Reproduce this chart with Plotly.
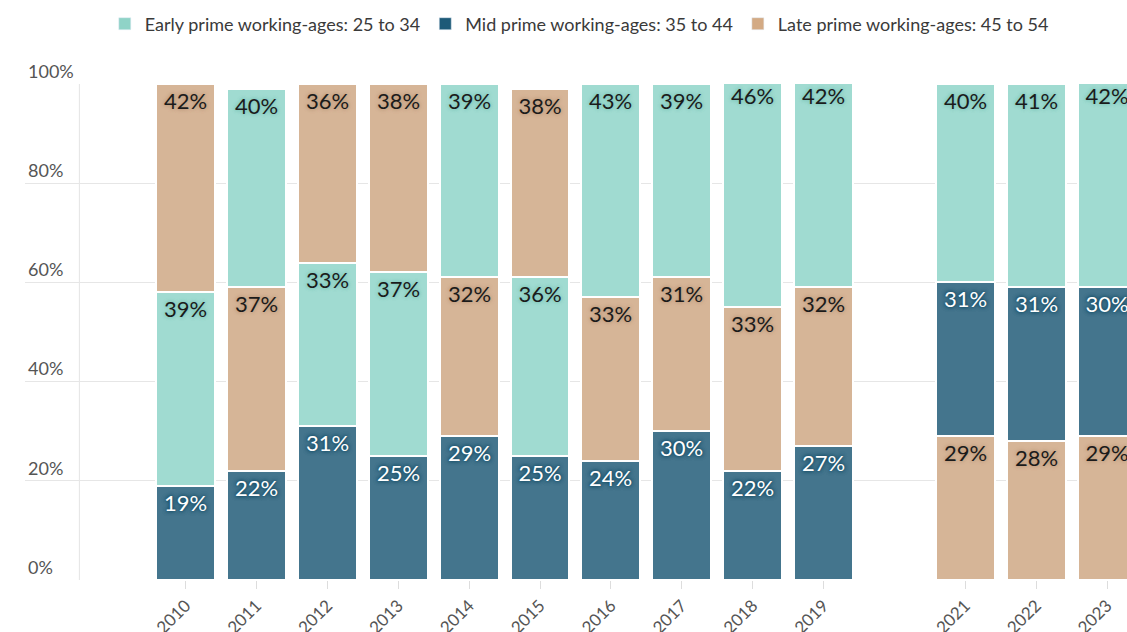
import plotly.graph_objects as go

# ---- data ----
years = [2010, 2011, 2012, 2013, 2014, 2015, 2016, 2017, 2018, 2019, 2021, 2022, 2023]
early = [39, 40, 33, 37, 39, 36, 43, 39, 46, 42, 40, 41, 42]
mid = [19, 22, 31, 25, 29, 25, 24, 30, 22, 27, 31, 31, 30]
late = [42, 37, 36, 38, 32, 38, 33, 31, 33, 32, 29, 28, 29]
series_names = ["Early prime working-ages: 25 to 34",
                "Mid prime working-ages: 35 to 44",
                "Late prime working-ages: 45 to 54"]
y_ticks = [0, 20, 40, 60, 80, 100]
y_tick_labels = ["0%", "20%", "40%", "60%", "80%", "100%"]

series = [early, mid, late]
bar_colors = ["#a0dbd1", "#44758d", "#d6b597"]
legend_colors = ["#8fd3c7", "#1d5a78", "#d3aa84"]
text_colors = ["#1b1b1b", "#ffffff", "#1b1b1b"]
shadows = ["0px 0px 3px #84c9bd, 0px 0px 4px #84c9bd, 0px 0px 4px #84c9bd",
           "0px 0px 3px #1b536c, 0px 0px 4px #1b536c, 0px 0px 4px #1b536c",
           "0px 0px 3px #c29f80, 0px 0px 4px #c29f80, 0px 0px 4px #c29f80"]

# stacking order per year: smallest segment at the bottom
bases = [[0] * len(years) for _ in series]
for i in range(len(years)):
    order = sorted(range(len(series)), key=lambda k: series[k][i])
    acc = 0
    for k in order:
        bases[k][i] = acc
        acc += series[k][i]

FONT = "Lato, 'Source Sans Pro', 'Noto Sans', sans-serif"

fig = go.Figure()
for k, name in enumerate(series_names):
    fig.add_trace(go.Bar(
        x=years, y=series[k], base=bases[k], name=name,
        width=0.83,
        marker=dict(color=bar_colors[k], line=dict(color="white", width=2)),
        text=[f"{v}%" for v in series[k]],
        textposition="inside", insidetextanchor="end", textangle=0,
        textfont=dict(family=FONT, size=22, color=text_colors[k], shadow=shadows[k]),
        showlegend=False, legendgroup=name, hoverinfo="skip",
    ))
# legend entries
for k, name in enumerate(series_names):
    fig.add_trace(go.Bar(
        x=[None], y=[None], name=name, legendgroup=name,
        marker=dict(color=legend_colors[k]), showlegend=True,
    ))

fig.add_shape(type="line", xref="x", yref="y",
              x0=years[0] - 1.5, x1=years[0] - 1.5, y0=0, y1=100,
              line=dict(color="#e4e4e4", width=1), layer="below")

fig.update_layout(
    width=1127, height=632,
    barmode="overlay",
    paper_bgcolor="white", plot_bgcolor="white",
    margin=dict(l=25, r=0, t=84, b=52, autoexpand=False),
    font=dict(family=FONT, color="#555555"),
    legend=dict(orientation="h", xref="container", yref="container",
                x=0.514, xanchor="center", y=0.962, yanchor="middle",
                font=dict(size=18, color="#3a3a3a"),
                itemwidth=30, traceorder="normal",
                itemclick=False, itemdoubleclick=False),
    xaxis=dict(type="linear", range=[2007.733, 2023.282],
               tickvals=years, ticktext=[str(y) for y in years],
               tickangle=-45, ticks="outside", ticklen=8,
               tickcolor="#dddddd", tickfont=dict(size=17, color="#555555"),
               showgrid=False, zeroline=False, showline=False, fixedrange=True),
    yaxis=dict(range=[0, 100], tickvals=y_ticks, ticktext=y_tick_labels,
               ticklabelposition="inside top", ticklabeloverflow="allow",
               ticks="", tickfont=dict(size=18, color="#555555"),
               showgrid=True, gridcolor="#e6e6e6", gridwidth=1,
               zeroline=False, showline=False, fixedrange=True),
    bargap=0,
)

fig.write_html("out.html", config={"displayModeBar": False})
